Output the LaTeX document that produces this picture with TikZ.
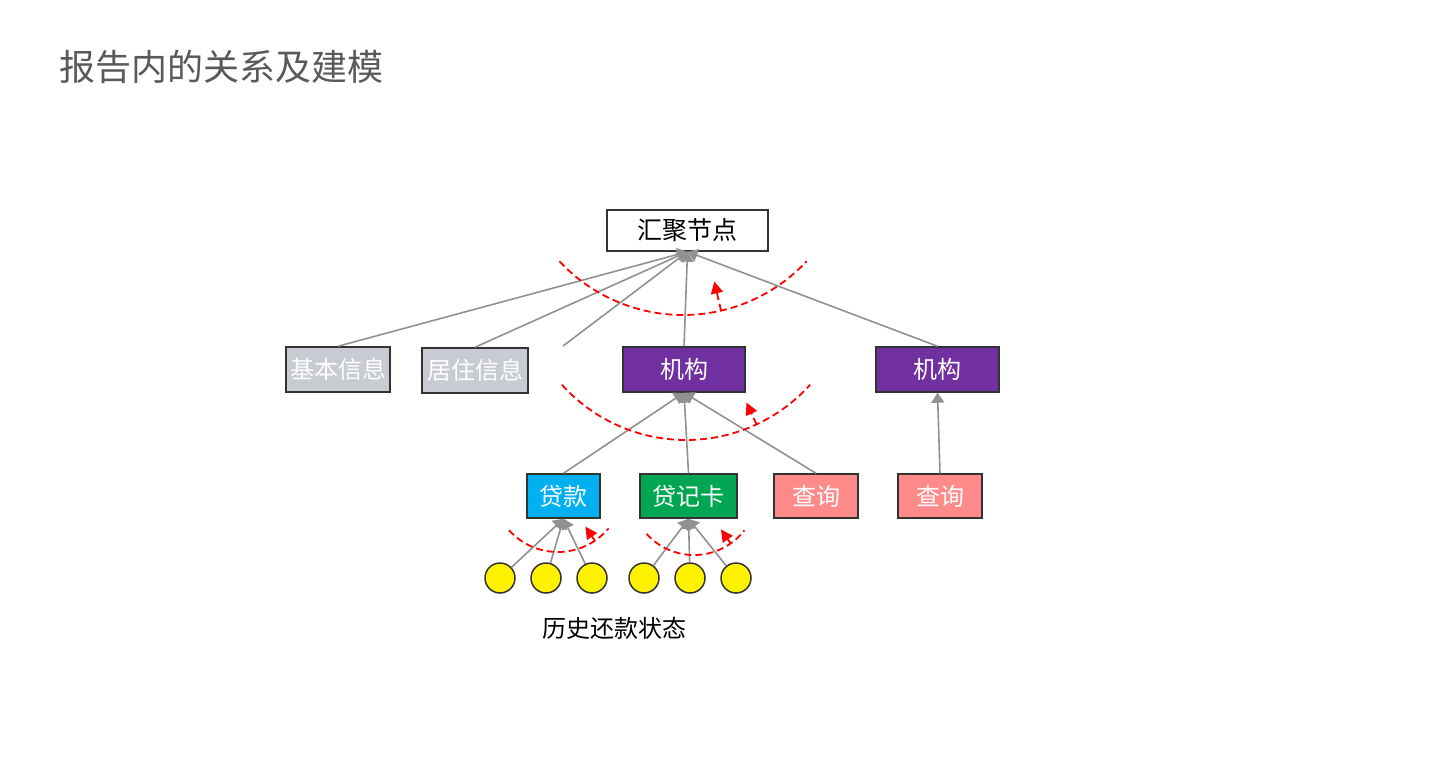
\documentclass[tikz,border=0pt]{standalone}
\usepackage{fontspec}
\setmainfont{Noto Sans CJK SC}
\usetikzlibrary{arrows.meta, calc}
\definecolor{titleGray}{RGB}{89,89,89}
\definecolor{edgeGray}{RGB}{145,145,145}
\definecolor{infoGray}{RGB}{200,203,210}
\definecolor{orgPurple}{RGB}{112,48,160}
\definecolor{loanBlue}{RGB}{0,176,240}
\definecolor{cardGreen}{RGB}{0,166,81}
\definecolor{queryPink}{RGB}{255,138,138}
\tikzset{
  box/.style={draw=black!80, line width=1.5pt, inner sep=0pt,
              minimum height=45pt, text=white, font=\fontsize{24}{28}\selectfont},
  state/.style={circle, draw=black!80, line width=1.5pt, fill=yellow,
                minimum size=30pt, inner sep=0pt},
  edge/.style={draw=edgeGray, line width=1.6pt,
               -{Triangle[width=13pt,length=10pt]}},
  aggline/.style={draw=red, line width=1.8pt, dash pattern=on 7pt off 4pt}
}
\newcommand{\aggarc}[6]{%
  % #1 = centre, #2 = radius, #3/#4 = start/end angle, #5 = arrow angle, #6 = arrow length
  \draw[aggline] ($#1+({#3}:{#2})$) arc[start angle=#3, end angle=#4, radius=#2];
  \draw[aggline, -{Triangle[width=12pt,length=12pt]}]
    ($#1+({#5}:{#2})$) -- ($#1+({#5}:{#2-#6})$);
}

\begin{document}
\begin{tikzpicture}[x=1pt, y=-1pt]
\useasboundingbox (0,0) rectangle (1448,761);

% --- title ------------------------------------------------------------------
\node[anchor=west, text=titleGray, font=\fontsize{36}{40}\selectfont]
  (title) at (56,67) {报告内的关系及建模};

% --- nodes --------------------------------------------------------------------
\node[draw=black!80, line width=1.5pt, fill=white, minimum width=161pt,
      minimum height=41pt, inner sep=0pt, font=\fontsize{25}{28}\selectfont]
  (hub) at (687.5,230.5) {汇聚节点};

\node[box, fill=infoGray, minimum width=104pt] (basic) at (338,369.5) {基本信息};
\node[box, fill=infoGray, minimum width=106pt] (home) at (475,370.5) {居住信息};
\node[box, fill=orgPurple, minimum width=122pt] (orgA) at (684,369.5) {机构};
\node[box, fill=orgPurple, minimum width=123pt] (orgB) at (937.5,369.5) {机构};
\coordinate (more) at (563,346);

\node[box, fill=loanBlue, minimum width=73pt, minimum height=44pt]
  (loan) at (563.5,496) {贷款};
\node[box, fill=cardGreen, minimum width=97pt, minimum height=44pt]
  (card) at (688.5,496) {贷记卡};
\node[box, fill=queryPink, minimum width=84pt, minimum height=44pt]
  (queryA) at (816,496) {查询};
\node[box, fill=queryPink, minimum width=84pt, minimum height=44pt]
  (queryB) at (940,496) {查询};

\foreach \i/\x in {1/500, 2/546, 3/592, 4/644, 5/690, 6/736}{
  \node[state] (s\i) at (\x,578) {};
}
\node[font=\fontsize{24}{28}\selectfont] (history) at (614,628) {历史还款状态};

% --- connectors ---------------------------------------------------------------
\foreach \src in {basic, home, orgA, orgB}{
  \draw[edge] (\src.north) -- (hub.south);
}
\draw[edge] (more) -- (hub.south);
\foreach \src in {loan, card, queryA}{
  \draw[edge] (\src.north) -- (orgA.south);
}
\draw[edge] (queryB.north) -- (orgB.south);
\foreach \i in {1,2,3}{
  \draw[edge] (s\i) -- (loan.south);
}
\foreach \i in {4,5,6}{
  \draw[edge] (s\i) -- (card.south);
}

% --- aggregation arcs ---------------------------------------------------------
\aggarc{(683,146)}{169}{137}{43}{77}{30}
\aggarc{(686,273)}{167}{138}{42}{65}{24}
\aggarc{(558,486)}{66}{138}{40}{56}{17}
\aggarc{(694,491)}{64}{138}{38}{55}{17}

\end{tikzpicture}
\end{document}
